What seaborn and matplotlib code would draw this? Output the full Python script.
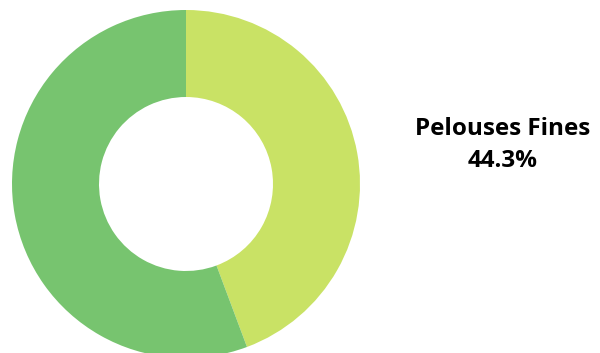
import matplotlib
matplotlib.use("Agg")
import matplotlib.pyplot as plt
import seaborn as sns

labels = ["Pelouses Fines", "Autres"]
shares = [44.3, 55.7]
colors = ["#c9e265", "#77c46f"]

sns.set_theme(style="white")
plt.rcParams["font.family"] = ["Open Sans", "DejaVu Sans"]

fig = plt.figure(figsize=(6, 3.53), dpi=100)
ax = fig.add_axes([0, 0, 1, 1])

ax.pie(
    shares,
    colors=sns.color_palette(colors),
    startangle=90,
    counterclock=False,
    center=(186, 169),
    radius=174,
    wedgeprops=dict(width=87, linewidth=0),
    frame=True,
)
ax.set_xlim(0, 600)
ax.set_ylim(0, 353)
ax.set_aspect("equal")
ax.axis("off")

ax.text(
    503,
    208,
    f"{labels[0]}\n{shares[0]:.1f}%",
    ha="center",
    va="center",
    fontsize=17.5,
    fontweight="bold",
    linespacing=1.45,
    color="black",
)

fig.savefig("out.png", dpi=100)
